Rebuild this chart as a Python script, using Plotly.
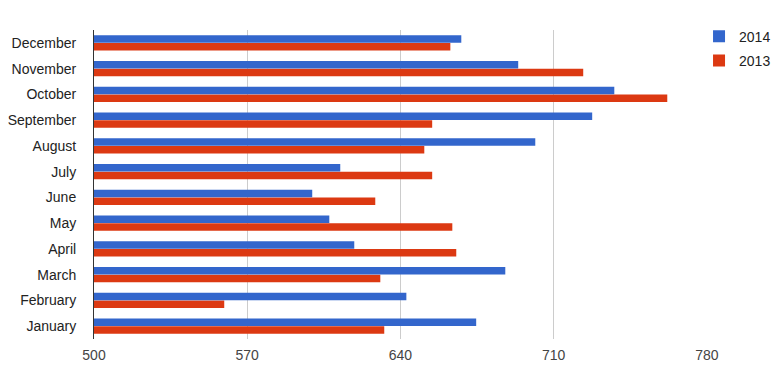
import plotly.graph_objects as go

months = ["January", "February", "March", "April", "May", "June",
          "July", "August", "September", "October", "November", "December"]
values_2014 = [674.6, 642.7, 687.9, 618.9, 607.5, 599.7,
               612.5, 701.6, 727.6, 737.7, 693.8, 667.8]
values_2013 = [632.6, 559.5, 630.8, 665.5, 663.7, 628.5,
               654.5, 650.9, 654.5, 761.9, 723.5, 662.8]
x_ticks = [500, 570, 640, 710, 780]

fig = go.Figure()
fig.add_trace(go.Bar(y=months, x=values_2013, orientation="h", name="2013",
                     marker=dict(color="#DC3912", line=dict(width=0)),
                     legendgroup="b", legendrank=2))
fig.add_trace(go.Bar(y=months, x=values_2014, orientation="h", name="2014",
                     marker=dict(color="#3366CC", line=dict(width=0)),
                     legendgroup="a", legendrank=1))

fig.update_layout(
    width=780, height=363,
    margin=dict(l=86, r=81, t=22, b=32, autoexpand=False),
    paper_bgcolor="white", plot_bgcolor="white",
    barmode="group", bargap=0.38, bargroupgap=0.06,
    font=dict(family="Liberation Sans, Arial, sans-serif", size=14, color="#222222"),
    showlegend=True,
    legend=dict(x=0.987, xanchor="left", y=1.03, yanchor="top",
                traceorder="grouped", tracegroupgap=3,
                font=dict(size=14, color="#222222"), bgcolor="rgba(0,0,0,0)",
                itemwidth=30),
    xaxis=dict(range=[500, 780.05], tickvals=x_ticks, showgrid=True,
               gridcolor="#cccccc", gridwidth=1, zeroline=False, showline=False,
               tickfont=dict(color="#444444", size=14), ticklabelstandoff=6,
               fixedrange=True),
    yaxis=dict(showgrid=False, showline=True, linecolor="#333333", linewidth=1,
               zeroline=False, ticks="", ticklabelstandoff=14,
               tickfont=dict(color="#222222", size=14)),
)

fig.write_html("out.html")
